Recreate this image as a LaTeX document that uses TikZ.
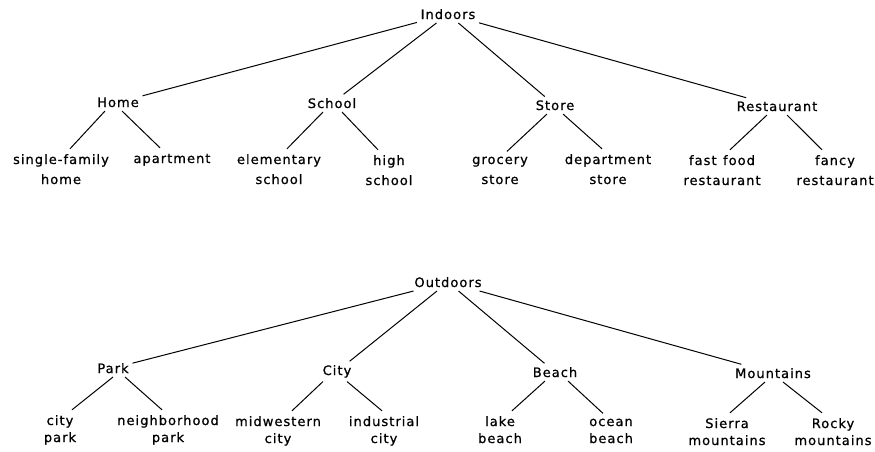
\documentclass[tikz,border=0pt]{standalone}
\usepackage{fontspec}
\setmainfont{DejaVu Sans}[LetterSpace=8, FakeBold=0.8]

\tikzset{every node/.style={font=\fontsize{13}{20}\selectfont, anchor=base},
  leaf/.style={align=center, outer ysep=2pt, execute at begin node=\vphantom{h},
    font=\fontsize{13}{#1}\selectfont},
  leaf/.default=20,
  every path/.style={line width=1pt}}

\begin{document}
\begin{tikzpicture}[x=1pt, y=-1pt]
  \useasboundingbox (0,0) rectangle (875,451);
  % indoor tree (leaves sit on the baseline of their last line)
  \node (indoors) at (448,19) {Indoors};
  \node (home) at (118,107) {Home};
  \node (school) at (332,108) {School};
  \node (store) at (555,110) {Store};
  \node (restaurant) at (777,111) {Restaurant};
  \node[leaf] (sfhome) at (61,184) {single-family\\home};
  \node[leaf] (apartment) at (172,163) {apartment};
  \node[leaf] (elementary) at (279,184) {elementary\\school};
  \node[leaf] (high) at (389,185) {high\\school};
  \node[leaf] (grocery) at (500,184) {grocery\\store};
  \node[leaf] (department) at (608,184) {department\\store};
  \node[leaf] (fastfood) at (722,185) {fast\enspace food\\restaurant};
  \node[leaf] (fancy) at (835,185) {fancy\\restaurant};
  % outdoor tree
  \node (outdoors) at (448,287) {Outdoors};
  \node (park) at (113,373) {Park};
  \node (city) at (337,375) {City};
  \node (beach) at (555,377) {Beach};
  \node (mountains) at (773,378) {Mountains};
  \node[leaf=17] (citypark) at (60,442) {city\\park};
  \node[leaf=17] (nbhpark) at (168,442) {neighborhood\\park};
  \node[leaf=17] (midwestern) at (278,443) {midwestern\\city};
  \node[leaf=17] (industrial) at (384,443) {industrial\\city};
  \node[leaf=17] (lake) at (500,443) {lake\\beach};
  \node[leaf=17] (ocean) at (611,443) {ocean\\beach};
  \node[leaf=17] (sierra) at (727,445) {Sierra\\mountains};
  \node[leaf=17] (rocky) at (833,445) {Rocky\\mountains};
  % root to the four places
  \draw (indoors) -- (home);
  \draw (indoors) -- (school);
  \draw (indoors) -- (store);
  \draw (indoors) -- (restaurant);
  \draw (outdoors) -- (park);
  \draw (outdoors) -- (city);
  \draw (outdoors) -- (beach);
  \draw (outdoors) -- (mountains);
  % places to their kinds, lines lean inwards
  \draw ([xshift=-13pt]home.south) -- ([xshift=9pt]sfhome.north);
  \draw ([xshift=4pt]home.south) -- ([xshift=-12pt]apartment.north);
  \draw ([xshift=-9pt]school.south) -- ([xshift=8pt]elementary.north);
  \draw ([xshift=10pt]school.south) -- ([xshift=-11pt]high.north);
  \draw ([xshift=-8pt]store.south) -- ([xshift=7pt]grocery.north);
  \draw ([xshift=8pt]store.south) -- ([xshift=-6pt]department.north);
  \draw ([xshift=-10pt]restaurant.south) -- ([xshift=8pt]fastfood.north);
  \draw ([xshift=10pt]restaurant.south) -- ([xshift=-13pt]fancy.north);
  \draw (park.south) -- ([xshift=12pt]citypark.north);
  \draw ([xshift=12pt]park.south) -- ([xshift=-6pt]nbhpark.north);
  \draw ([xshift=-14pt]city.south) -- ([xshift=14pt]midwestern.north);
  \draw ([xshift=10pt]city.south) -- ([xshift=-2pt]industrial.north);
  \draw ([xshift=-10pt]beach.south) -- ([xshift=12pt]lake.north);
  \draw ([xshift=13pt]beach.south) -- ([xshift=-8pt]ocean.north);
  \draw ([xshift=-8pt]mountains.south) -- ([xshift=3pt]sierra.north);
  \draw ([xshift=10pt]mountains.south) -- ([xshift=-11pt]rocky.north);
\end{tikzpicture}
\end{document}
